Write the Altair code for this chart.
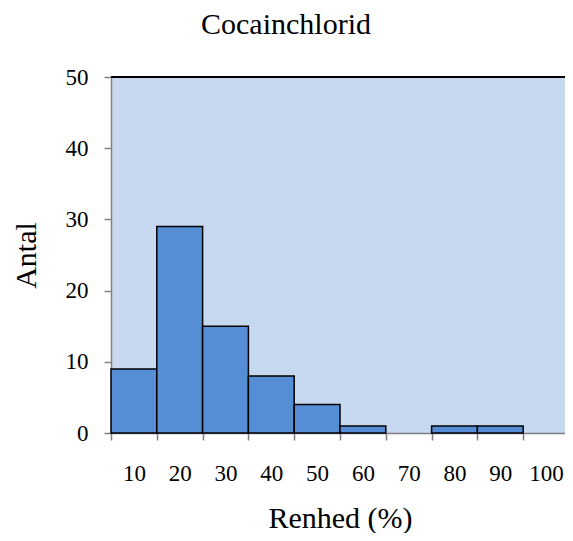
import altair as alt
import pandas as pd

categories = ["10", "20", "30", "40", "50", "60", "70", "80", "90", "100"]
counts = [9, 29, 15, 8, 4, 1, 0, 1, 1, 0]
y_ticks = [0, 10, 20, 30, 40, 50]

df = pd.DataFrame({"Renhed": categories, "Antal": counts})

FONT = "Liberation Serif"
GRAY = "#808080"

x_enc = alt.X(
    "Renhed:N",
    sort=categories,
    scale=alt.Scale(domain=categories, paddingInner=0, paddingOuter=0, range=[0, 458]),
    axis=alt.Axis(
        title="Renhed (%)",
        labelAngle=0,
        tickBand="extent",
        tickSize=7,
        tickColor=GRAY,
        tickWidth=1.5,
        domainColor=GRAY,
        domainWidth=1.5,
        labelFont=FONT,
        labelFontSize=23,
        labelColor="black",
        labelPadding=22,
        titleFont=FONT,
        titleFontSize=30,
        titleFontWeight="normal",
        titleColor="black",
        titleX=229,
        titleY=94,
        titleBaseline="alphabetic",
        titleAlign="center",
    ),
)

y_enc = alt.Y(
    "Antal:Q",
    scale=alt.Scale(domain=[0, 50], nice=False),
    axis=alt.Axis(
        title="Antal",
        values=y_ticks,
        grid=False,
        tickSize=7,
        tickColor=GRAY,
        tickWidth=1.5,
        domainColor=GRAY,
        domainWidth=1.5,
        labelFont=FONT,
        labelFontSize=23,
        labelColor="black",
        labelPadding=16,
        titleFont=FONT,
        titleFontSize=30,
        titleFontWeight="normal",
        titleColor="black",
        titleAngle=270,
        titleX=-85,
        titleY=178,
        titleAlign="center",
        titleBaseline="middle",
    ),
)

bars = (
    alt.Chart(df)
    .transform_filter(alt.datum.Antal > 0)
    .mark_bar(color="#558ED5", stroke="black", strokeWidth=1.5)
    .encode(x=x_enc, y=y_enc)
)

top_border = (
    alt.Chart(df)
    .mark_rule(color="black", strokeWidth=1.5)
    .encode(y=alt.datum(max(y_ticks)))
)

chart = (
    alt.layer(bars, top_border)
    .properties(
        width=454,
        height=356,
        autosize=alt.AutoSizeParams(type="none"),
        padding={"left": 103, "top": 69, "right": 0, "bottom": 100},
        title=alt.TitleParams(
            "Cocainchlorid",
            font=FONT,
            fontSize=30,
            fontWeight="normal",
            color="black",
            anchor="middle",
            frame="group",
            baseline="alphabetic",
            offset=2,
            dx=-52,
        ),
    )
    .configure_view(fill="#C6D9F1", stroke=None)
    .configure_title(font=FONT, fontSize=30, fontWeight="normal", color="black")
)

chart.save("out.html", embed_options={"renderer": "svg", "actions": False})
